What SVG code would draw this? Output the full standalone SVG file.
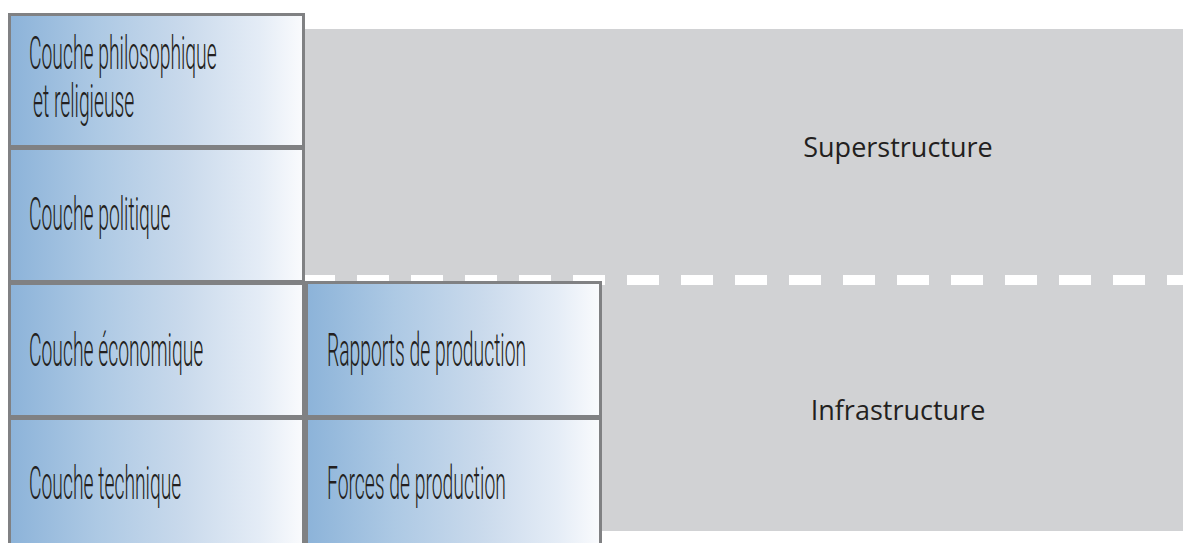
<svg xmlns="http://www.w3.org/2000/svg" width="1183" height="543" viewBox="0 0 1183 543">
  <defs>
    <linearGradient id="layerFill" x1="0" y1="0" x2="1" y2="0">
      <stop offset="0" stop-color="#8cb3d9"/>
      <stop offset="0.3" stop-color="#adc9e4"/>
      <stop offset="0.6" stop-color="#cadaec"/>
      <stop offset="0.85" stop-color="#e4ecf6"/>
      <stop offset="1" stop-color="#fafbfd"/>
    </linearGradient>
  </defs>
  <style>
    .layer { fill: url(#layerFill); stroke: #808183; stroke-width: 3; }
    .cond { font-family: Roboto, "Liberation Sans", sans-serif; font-weight: 300; font-size: 46px; fill: #231f20; }
    .zone { font-family: "Open Sans", "Noto Sans", sans-serif; font-size: 27px; fill: #231f20; }
  </style>
  <rect width="1183" height="543" fill="#ffffff"/>

  <!-- background zones -->
  <g id="zones">
    <rect x="305" y="29" width="878" height="502" fill="#d1d2d4"/>
    <text class="zone" x="898" y="157" text-anchor="middle">Superstructure</text>
    <text class="zone" x="898" y="420" text-anchor="middle">Infrastructure</text>
  </g>

  <!-- boundary between superstructure and infrastructure -->
  <g id="connectors">
    <line x1="303" y1="280" x2="1183" y2="280" stroke="#ffffff" stroke-width="10" stroke-dasharray="32 22"/>
  </g>

  <!-- condensed labels: glyphs narrowed by a horizontal scale -->
  <g id="couche-philosophique">
    <rect class="layer" x="9.5" y="14.5" width="294" height="132"/>
    <text class="cond" transform="translate(29 69) scale(0.42 1)">Couche philosophique</text>
    <text class="cond" transform="translate(33 117) scale(0.42 1)">et religieuse</text>
  </g>
  <g id="couche-politique">
    <rect class="layer" x="9.5" y="148.5" width="294" height="133"/>
    <text class="cond" transform="translate(29 230) scale(0.42 1)">Couche politique</text>
  </g>
  <g id="couche-economique">
    <rect class="layer" x="9.5" y="283.5" width="294" height="133"/>
    <text class="cond" transform="translate(29 366) scale(0.42 1)">Couche économique</text>
  </g>
  <g id="couche-technique">
    <rect class="layer" x="9.5" y="418.5" width="294" height="140"/>
    <text class="cond" transform="translate(29 499) scale(0.42 1)">Couche technique</text>
  </g>
  <g id="rapports-production">
    <rect class="layer" x="306.5" y="282.5" width="294" height="134"/>
    <text class="cond" transform="translate(327 366) scale(0.42 1)">Rapports de production</text>
  </g>
  <g id="forces-production">
    <rect class="layer" x="306.5" y="418.5" width="294" height="140"/>
    <text class="cond" transform="translate(327 499) scale(0.42 1)">Forces de production</text>
  </g>
</svg>
